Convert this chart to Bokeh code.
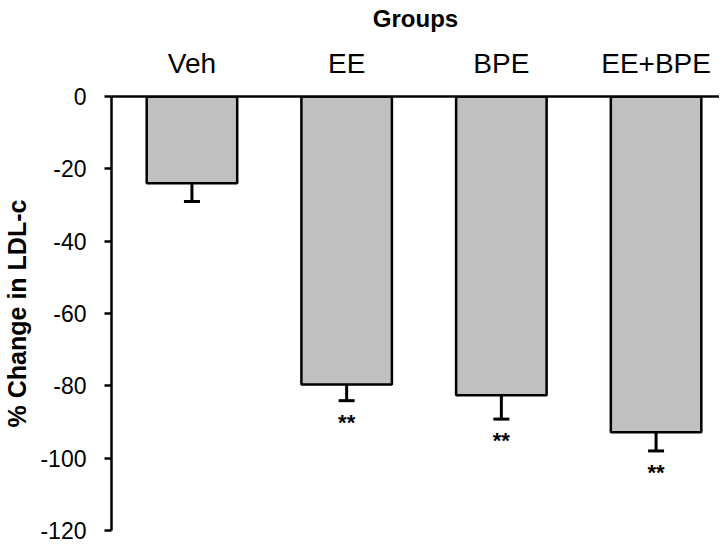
from bokeh.plotting import figure
from bokeh.models import Range1d, Whisker, TeeHead, ColumnDataSource, FixedTicker, PrintfTickFormatter
from bokeh.core.properties import value
from bokeh.embed import file_html
from bokeh.resources import INLINE

groups = ["Veh", "EE", "BPE", "EE+BPE"]
change = [-24.0, -79.6, -82.6, -92.8]
sem = [5.0, 4.5, 6.6, 5.2]
sig = ["", "**", "**", "**"]
y_ticks = [0, -20, -40, -60, -80, -100, -120]

xpos = [i + 0.5 for i in range(len(groups))]
lo = [v - e for v, e in zip(change, sem)]
src = ColumnDataSource(data=dict(x=xpos, group=groups, value=change, lo=lo, sig=sig))

FONT = "Liberation Sans"

p = figure(x_range=Range1d(-0.02, 3.91), y_range=Range1d(-120, 0),
           width=719, height=545, x_axis_location="above",
           output_backend="svg", toolbar_location=None,
           min_border_left=110, min_border_right=0,
           min_border_top=96, min_border_bottom=15)

p.vbar(x="x", top="value", bottom=0, width=0.585, source=src,
       fill_color="#C0C0C0", line_color="black", line_width=2.5)

w = Whisker(source=src, base="x", upper="value", lower="lo", dimension="height",
            line_color="black", line_width=3,
            upper_head=None,
            lower_head=TeeHead(size=16, line_width=3, line_color="black"))
p.add_layout(w)

p.text(x="x", y="lo", text="sig", source=src, text_align="center",
       text_baseline="top", y_offset=9, text_font=value(FONT),
       text_font_style="bold", text_font_size="22px", text_color="black")

p.grid.visible = False
p.outline_line_color = None

xa = p.xaxis[0]
xa.ticker = FixedTicker(ticks=xpos)
xa.major_label_overrides = {x: g for x, g in zip(xpos, groups)}
xa.axis_label = "Groups"
xa.axis_label_text_font = FONT
xa.axis_label_text_font_style = "bold"
xa.axis_label_text_font_size = "24px"
xa.axis_label_text_color = "black"
xa.axis_label_standoff = 13
xa.major_label_text_font = FONT
xa.major_label_text_font_size = "28px"
xa.major_label_text_color = "black"
xa.major_label_standoff = 12
xa.major_tick_line_color = None
xa.minor_tick_line_color = None
xa.axis_line_width = 2.5
xa.axis_line_color = "black"

ya = p.yaxis[0]
ya.ticker = FixedTicker(ticks=y_ticks)
ya.formatter = PrintfTickFormatter(format="%d")
ya.axis_label = "% Change in LDL-c"
ya.axis_label_text_font = FONT
ya.axis_label_text_font_style = "bold"
ya.axis_label_text_font_size = "25px"
ya.axis_label_text_color = "black"
ya.axis_label_standoff = 6
ya.major_label_text_font = FONT
ya.major_label_text_font_size = "23px"
ya.major_label_text_color = "black"
ya.major_label_standoff = 18
ya.major_tick_out = 7
ya.major_tick_in = 0
ya.major_tick_line_width = 2.5
ya.minor_tick_line_color = None
ya.axis_line_width = 2.5
ya.axis_line_color = "black"

open("out.html", "w").write(file_html(p, INLINE))
